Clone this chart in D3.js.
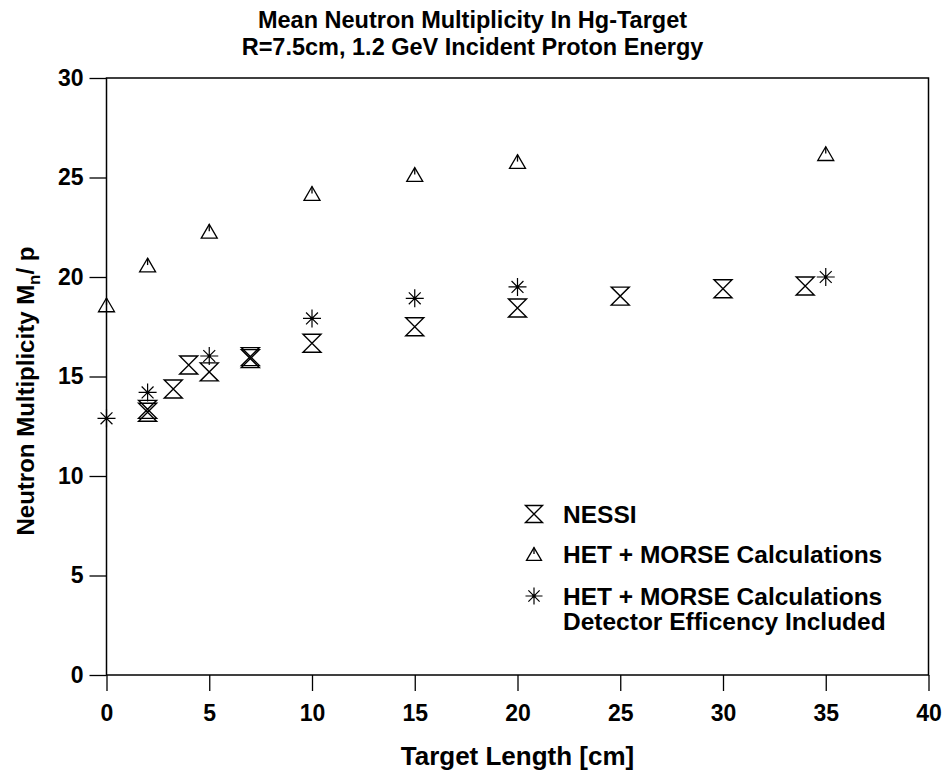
<!DOCTYPE html>
<html><head><meta charset="utf-8">
<script src="https://cdn.jsdelivr.net/npm/d3@7"></script>
<style>
body{margin:0;background:#fff;}
text{font-family:"Liberation Sans",Arial,sans-serif;font-weight:bold;fill:#000;}
</style></head>
<body><svg id="c" width="945" height="776"></svg>
<script>
// Data
const titleLines = ["Mean Neutron Multiplicity In Hg-Target", "R=7.5cm, 1.2 GeV Incident Proton Energy"];
const xTicks = [0,5,10,15,20,25,30,35,40];
const yTicks = [0,5,10,15,20,25,30];
const nessiX = [2, 2, 3.25, 4, 5, 7, 7, 10, 15, 20, 25, 30, 34];
const nessiY = [13.2, 13.35, 14.37, 15.58, 15.23, 15.9, 16.0, 16.67, 17.5, 18.44, 19.04, 19.41, 19.55];
const hetX = [0, 2, 5, 10, 15, 20, 35];
const hetY = [18.6, 20.6, 22.3, 24.2, 25.15, 25.8, 26.2];
const detX = [0, 2, 5, 10, 15, 20, 35];
const detY = [12.9, 14.2, 16.03, 17.92, 18.93, 19.5, 20.0];
const legendLabels = ["NESSI", "HET + MORSE Calculations", "HET + MORSE Calculations", "Detector Efficency Included"];

const svg = d3.select("#c");
const L = 106.5, R = 928.5, T = 78, B = 675;
const x = d3.scaleLinear().domain([0,40]).range([L,R]);
const y = d3.scaleLinear().domain([0,30]).range([B,T]);
const FS = 23;

// title
svg.selectAll("text.title").data(titleLines).join("text")
  .attr("class","title").attr("x",472.5).attr("y",(d,i)=>28+i*27)
  .attr("text-anchor","middle").attr("font-size",23.5).text(d=>d);

// frame
svg.append("rect").attr("x",L).attr("y",T).attr("width",R-L).attr("height",B-T)
  .attr("fill","none").attr("stroke","#000").attr("stroke-width",1.5);

// axes
const xAxis = svg.append("g").attr("transform",`translate(0,${B})`)
  .call(d3.axisBottom(x).tickValues(xTicks).tickSize(16).tickSizeOuter(0).tickPadding(14).tickFormat(d3.format("d")));
const yAxis = svg.append("g").attr("transform",`translate(${L},0)`)
  .call(d3.axisLeft(y).tickValues(yTicks).tickSize(17).tickSizeOuter(0).tickPadding(6).tickFormat(d3.format("d")));
[xAxis,yAxis].forEach(a=>{
  a.select(".domain").remove();
  a.selectAll(".tick line").attr("stroke","#000").attr("stroke-width",1.3);
  a.selectAll(".tick text").attr("font-size",FS).attr("font-family",'"Liberation Sans",Arial,sans-serif').attr("font-weight","bold").attr("fill","#000");
});

// axis titles
svg.append("text").attr("x",(L+R)/2).attr("y",765).attr("text-anchor","middle").attr("font-size",26).text("Target Length [cm]");
const yt = svg.append("text").attr("transform","translate(34,391) rotate(-90)").attr("text-anchor","middle").attr("font-size",24);
yt.append("tspan").text("Neutron Multiplicity M");
yt.append("tspan").attr("font-size",17).attr("dy",6).text("n");
yt.append("tspan").attr("dy",-6).text("/ p");

// marker generators
function hourglass(g, s){
  const w=s/2, h=s/2;
  g.append("path").attr("d",`M${-w},${-h}H${w}L${-w},${h}H${w}Z`)
   .attr("fill","none").attr("stroke","#000").attr("stroke-width",1.4);
}
function triangle(g, s){
  const w=s/2, h=s*0.43;
  g.append("path").attr("d",`M0,${-h}L${w},${h}H${-w}Z`).attr("fill","none").attr("stroke","#000").attr("stroke-width",1.3);
  g.append("line").attr("x1",0).attr("x2",0).attr("y1",-h).attr("y2",0).attr("stroke","#000").attr("stroke-width",1.3);
}
function asterisk(g, s){
  const a=s/2, d=s*0.33;
  g.append("path").attr("d",`M${-a},0H${a}M0,${-a}V${a}M${-d},${-d}L${d},${d}M${-d},${d}L${d},${-d}`)
   .attr("fill","none").attr("stroke","#000").attr("stroke-width",1.2);
  g.append("circle").attr("r",1.6).attr("fill","#000");
}

const nessi = nessiX.map((v,i)=>({x:v,y:nessiY[i]}));
const het = hetX.map((v,i)=>({x:v,y:hetY[i]}));
const det = detX.map((v,i)=>({x:v,y:detY[i]}));

svg.append("g").selectAll("g").data(nessi).join("g")
  .attr("transform",d=>`translate(${x(d.x)},${y(d.y)})`).each(function(){hourglass(d3.select(this),18);});
svg.append("g").selectAll("g").data(het).join("g")
  .attr("transform",d=>`translate(${x(d.x)},${y(d.y)})`).each(function(){triangle(d3.select(this),16);});
svg.append("g").selectAll("g").data(det).join("g")
  .attr("transform",d=>`translate(${x(d.x)},${y(d.y)})`).each(function(){asterisk(d3.select(this),18);});

// legend
const LFS = 24.5;
const lg = svg.append("g");
const rows = [
  {m:hourglass, s:17, my:514, label:legendLabels[0], ty:523},
  {m:triangle, s:15, my:554, label:legendLabels[1], ty:563},
  {m:asterisk, s:17, my:596, label:legendLabels[2], ty:605},
];
rows.forEach(r=>{
  const g = lg.append("g").attr("transform",`translate(534,${r.my})`);
  r.m(g, r.s);
  lg.append("text").attr("x",563).attr("y",r.ty).attr("font-size",LFS).text(r.label);
});
lg.append("text").attr("x",563).attr("y",630).attr("font-size",LFS).text(legendLabels[3]);
</script></body></html>
